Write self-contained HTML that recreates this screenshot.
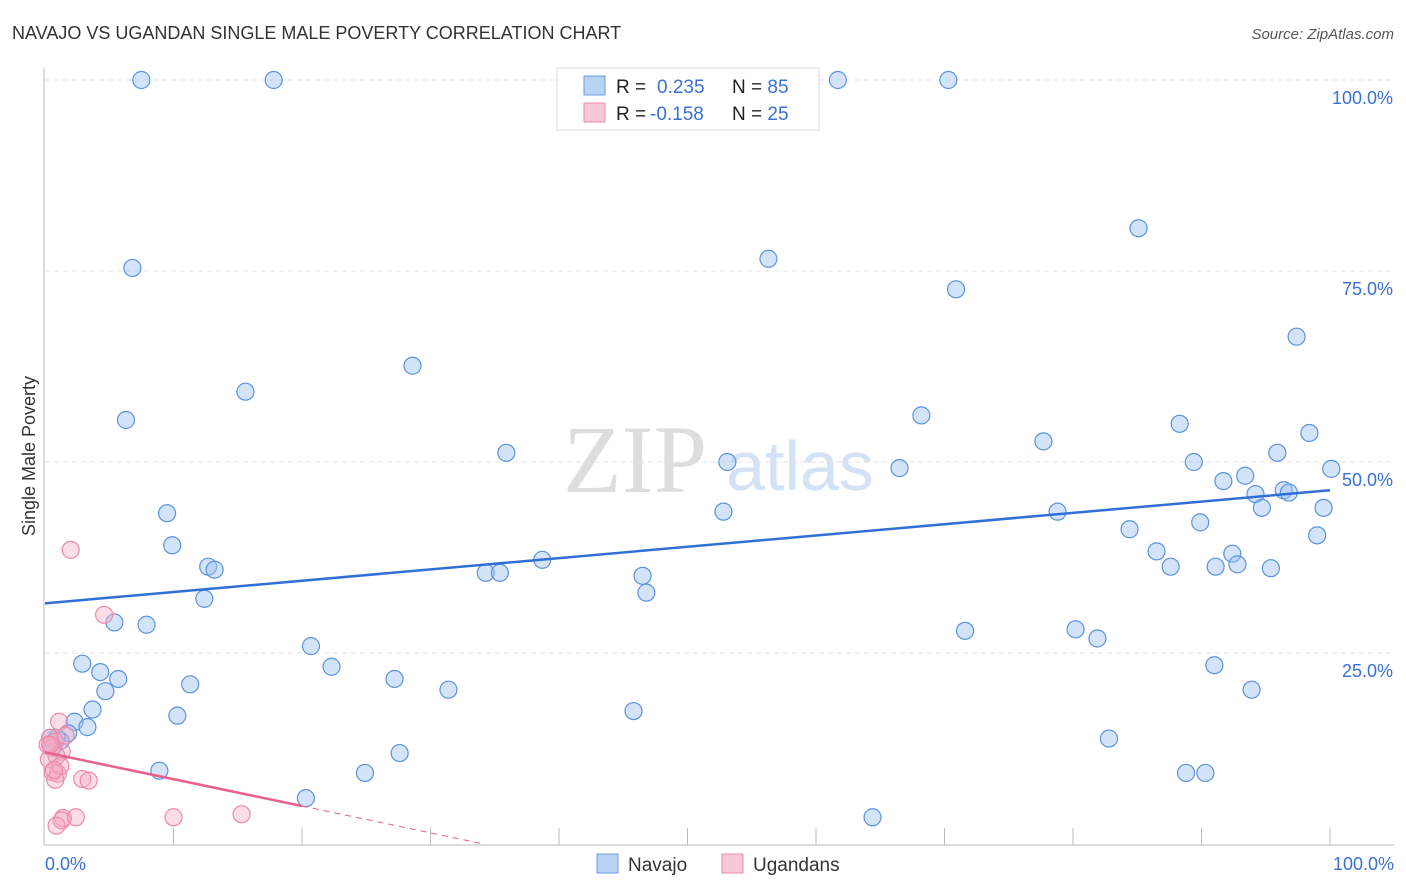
<!DOCTYPE html>
<html><head><meta charset="utf-8"><style>
body{margin:0;background:#fff;font-family:"Liberation Sans",sans-serif}
svg{display:block}
</style></head><body>
<svg id="chart" width="1406" height="892">
<text x="12" y="39" font-size="18" fill="#333">NAVAJO VS UGANDAN SINGLE MALE POVERTY CORRELATION CHART</text>
<text x="1394" y="39" font-size="15" fill="#555" font-style="italic" text-anchor="end">Source: ZipAtlas.com</text>
<text x="635" y="492" font-size="96" fill="#ddd" font-family="Liberation Serif" text-anchor="middle">ZIP</text>
<text x="800" y="490" font-size="70" fill="#d3e2f5" text-anchor="middle">atlas</text>
<g id="grid"></g>
<g id="axes"></g>
<g id="pts"></g>
<g id="trend"></g>
<text x="35" y="456" font-size="18" fill="#333" text-anchor="middle" transform="rotate(-90 35 456)">Single Male Poverty</text>
<text x="45" y="870" font-size="18" fill="#3a6fd8">0.0%</text>
<text x="1394" y="870" font-size="18" fill="#3a6fd8" text-anchor="end">100.0%</text>
<g>
<rect x="557" y="68" width="262" height="62" fill="#fff" stroke="#ddd"/>
<rect x="584" y="76" width="21" height="19" fill="#b9d3f5" stroke="#6a9be0"/>
<rect x="584" y="103" width="21" height="19" fill="#f9c8d6" stroke="#ec8aa8"/>
<text x="616" y="93" font-size="19" fill="#222">R = <tspan fill="#3a6fd8" x="657">0.235</tspan><tspan fill="#222" x="732">N = </tspan><tspan fill="#3a6fd8">85</tspan></text>
<text x="616" y="120" font-size="19" fill="#222">R = <tspan fill="#3a6fd8" x="650">-0.158</tspan><tspan fill="#222" x="732">N = </tspan><tspan fill="#3a6fd8">25</tspan></text>
</g>
<g>
<rect x="597" y="854" width="21" height="19" fill="#b9d3f5" stroke="#6a9be0"/>
<text x="628" y="871" font-size="19" fill="#333">Navajo</text>
<rect x="722" y="854" width="21" height="19" fill="#f9c8d6" stroke="#ec8aa8"/>
<text x="753" y="871" font-size="19" fill="#333">Ugandans</text>
</g>
</svg>
<script>
const navajoX=[7.5,17.8,40.5,61.7,70.3,85.1,56.3,6.8,70.9,97.4,28.6,15.6,68.2,88.3,6.3,98.4,77.7,35.9,95.9,89.4,53.1,66.5,100.1,93.4,91.7,96.4,94.2,96.8,94.7,99.5,9.5,52.8,78.8,84.4,89.9,99,9.9,86.5,92.4,38.7,92.8,12.7,13.2,87.6,91.1,95.4,34.3,35.4,46.5,46.8,12.4,5.4,7.9,71.6,80.2,81.9,20.7,2.9,22.3,4.3,91,5.7,11.3,93.9,4.7,31.4,27.2,3.7,45.8,10.3,2.3,3.3,1.8,1.2,0.9,27.6,82.8,8.9,24.9,88.8,90.3,20.3,64.4,0.4,0.6];
const navajoY=[100,100,100,100,100,80.6,76.6,75.4,72.6,66.4,62.6,59.2,56.1,55,55.5,53.8,52.7,51.2,51.2,50,50,49.2,49.1,48.2,47.5,46.3,45.8,46,44,44,43.3,43.5,43.5,41.2,42.1,40.4,39.1,38.3,38,37.2,36.6,36.3,35.9,36.3,36.3,36.1,35.5,35.5,35.1,32.9,32.1,29,28.7,27.9,28.1,26.9,25.9,23.6,23.2,22.5,23.4,21.6,20.9,20.2,20.0,20.2,21.6,17.6,17.4,16.8,16,15.3,14.5,13.5,13.9,11.9,13.8,9.6,9.3,9.3,9.3,6.0,3.5,13.9,12.6];
const ugandansX=[2,4.6,1.1,0.4,0.8,0.5,1.3,0.9,0.3,0.6,1,0.8,2.9,3.4,1.4,1.3,0.9,2.4,10,15.3,1.6,0.2,1.2,0.4,0.7];
const ugandansY=[38.5,30,16,13.9,13.4,12.6,12.1,11.5,11.1,9.4,9.2,8.4,8.5,8.3,3.4,3.1,2.4,3.5,3.5,3.9,14.2,13,10.2,13,9.7];
const yTicks=[25,50,75,100];
const yTickLabels=["25.0%","50.0%","75.0%","100.0%"];
const xTicks=[10,20,30,40,50,60,70,80,90,100];
const navajoTrend=[31.5,46.3];
const ugandanTrend=[12.0,4.97];
const X=v=>45+v*12.85, Y=v=>844-v*7.64;
const NS="http://www.w3.org/2000/svg";
function mk(tag,attrs,parent){const e=document.createElementNS(NS,tag);for(const k in attrs)e.setAttribute(k,attrs[k]);parent.appendChild(e);return e;}
const grid=document.getElementById('grid'),axes=document.getElementById('axes'),pts=document.getElementById('pts'),tr=document.getElementById('trend');
yTicks.forEach((t,i)=>{
 const l=mk('line',{x1:45,x2:1394,y1:Y(t),y2:Y(t),stroke:'#e2e2e2','stroke-dasharray':'5,4'},grid);
 
 
 const tx=mk('text',{x:1393,y:Y(t)+24,'font-size':18,fill:'#3a6fd8','text-anchor':'end'},grid);
 tx.textContent=yTickLabels[i];
 
 
});
const ax=mk('line',{x1:44,x2:44,y1:68,y2:845,stroke:'#bbb'},axes);


const bx=mk('line',{x1:44,x2:1394,y1:845,y2:845,stroke:'#bbb'},axes);


xTicks.forEach(t=>{
 const l=mk('line',{x1:X(t),x2:X(t),y1:828,y2:845,stroke:'#bbb'},axes);
 
 
});
navajoX.forEach((v,i)=>{
 const c=mk('circle',{cx:X(v),cy:Y(navajoY[i]),r:8.5,fill:'rgba(160,196,240,0.45)',stroke:'#5b92e0','stroke-width':1.2},pts);
 
 
});
ugandansX.forEach((v,i)=>{
 const c=mk('circle',{cx:X(v),cy:Y(ugandansY[i]),r:8.5,fill:'rgba(246,170,195,0.4)',stroke:'#ec8aa8','stroke-width':1.2},pts);
 
 
});
const bl=mk('line',{x1:X(0),y1:Y(navajoTrend[0]),x2:X(100),y2:Y(navajoTrend[1]),stroke:'#2f6fd6','stroke-width':2.5},tr);


const slope=(ugandanTrend[1]-ugandanTrend[0])/20;
const pl=mk('line',{x1:X(0),y1:Y(ugandanTrend[0]),x2:X(20),y2:Y(ugandanTrend[1]),stroke:'#e8608c','stroke-width':2.5},tr);


const xe=-ugandanTrend[0]/slope;
const pd=mk('line',{x1:X(20),y1:Y(ugandanTrend[1]),x2:X(xe),y2:Y(0),stroke:'#e8608c','stroke-width':1,'stroke-dasharray':'6,5'},tr);


</script>
</body></html>
